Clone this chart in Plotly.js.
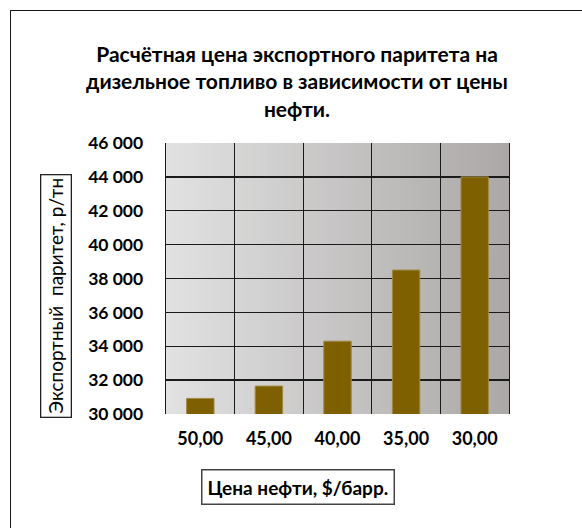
<!DOCTYPE html>
<html>
<head>
<meta charset="utf-8">
<script src="https://cdn.plot.ly/plotly-3.0.1.min.js"></script>
<style>
  html, body { margin: 0; padding: 0; background: #fff; overflow: hidden; }
  #wrap { position: relative; width: 582px; height: 528px; }
  #chart { width: 582px; height: 528px; }
  #frame { position: absolute; left: 10px; top: 10px; width: 700px; height: 700px;
           border: 1.5px solid #1a1a1a; pointer-events: none; box-sizing: border-box; }
</style>
</head>
<body>
<div id="wrap">
  <div id="chart"></div>
  <div id="frame"></div>
</div>
<script>
// ---- data ----
const oilPrices = ["50,00", "45,00", "40,00", "35,00", "30,00"];
const exportParity = [30920, 31650, 34300, 38500, 44000];
const yTickValues = [30000, 32000, 34000, 36000, 38000, 40000, 42000, 44000, 46000];

const titleText = "Расчётная цена экспортного паритета на<br>дизельное топливо в зависимости от цены<br>нефти.";
const xTitleText = "Цена нефти, $/барр.";
const yTitleText = "Экспортный  паритет, р/тн";

// gradient background for plot area
function gradientURL() {
  const c = document.createElement('canvas');
  c.width = 256; c.height = 4;
  const g = c.getContext('2d');
  const gr = g.createLinearGradient(0, 0, 256, 0);
  gr.addColorStop(0, '#e2e2e2');
  gr.addColorStop(1, '#aba8a7');
  g.fillStyle = gr;
  g.fillRect(0, 0, 256, 4);
  return c.toDataURL('image/png');
}

const FONT = 'Lato, "Open Sans", sans-serif';

const trace = {
  type: 'bar',
  x: oilPrices,
  y: exportParity,
  marker: { color: '#7f6000', line: { color: '#a08a4a', width: 1 } },
  hoverinfo: 'x+y'
};

const layout = {
  width: 582, height: 528,
  margin: { l: 166, r: 73, t: 143, b: 114 },
  paper_bgcolor: 'rgba(0,0,0,0)',
  plot_bgcolor: 'rgba(0,0,0,0)',
  separators: ', ',
  showlegend: false,
  bargap: 0.6,
  font: { family: FONT, color: '#000' },
  title: {
    text: titleText,
    font: { family: FONT, size: 21, color: '#000', weight: 'bold' },
    xref: 'container', x: 297 / 582, xanchor: 'center',
    yref: 'container', y: 1 - 62 / 528, yanchor: 'top'
  },
  xaxis: {
    type: 'category',
    tickson: 'boundaries',
    showgrid: true, gridcolor: '#1a1a1a', gridwidth: 1.3,
    ticks: '', showline: false, zeroline: false,
    ticklabelstandoff: 12,
    tickfont: { family: FONT, size: 18, color: '#000', weight: 'bold' }
  },
  yaxis: {
    range: [30000, 46000],
    tickvals: yTickValues,
    tickformat: ',d',
    showgrid: true, gridcolor: '#1a1a1a', gridwidth: 1.3,
    showline: true, linecolor: '#1a1a1a', linewidth: 1.3, mirror: true,
    ticks: '', zeroline: false,
    ticklabelstandoff: 18,
    tickfont: { family: FONT, size: 17.5, color: '#000', weight: 'bold' }
  },
  images: [{
    source: gradientURL(),
    xref: 'paper', yref: 'paper', x: 0, y: 1, sizex: 1, sizey: 1,
    sizing: 'stretch', xanchor: 'left', yanchor: 'top', layer: 'below'
  }],
  annotations: [
    {
      text: yTitleText, textangle: -90,
      xref: 'paper', yref: 'paper',
      x: (56 - 166) / 343, y: (414 - 296) / 271,
      xanchor: 'center', yanchor: 'middle', showarrow: false,
      font: { family: FONT, size: 19, color: '#000' },
      bordercolor: '#222', borderwidth: 1.3, borderpad: 3, bgcolor: '#fff'
    },
    {
      text: xTitleText,
      xref: 'paper', yref: 'paper',
      x: (298 - 166) / 343, y: -(487 - 414) / 271,
      xanchor: 'center', yanchor: 'middle', showarrow: false,
      font: { family: FONT, size: 19, color: '#000', weight: 'bold' },
      bordercolor: '#444', borderwidth: 1.5, borderpad: 5, bgcolor: '#fff'
    }
  ]
};

Plotly.newPlot('chart', [trace], layout, { displayModeBar: false, staticPlot: true });
</script>
</body>
</html>
